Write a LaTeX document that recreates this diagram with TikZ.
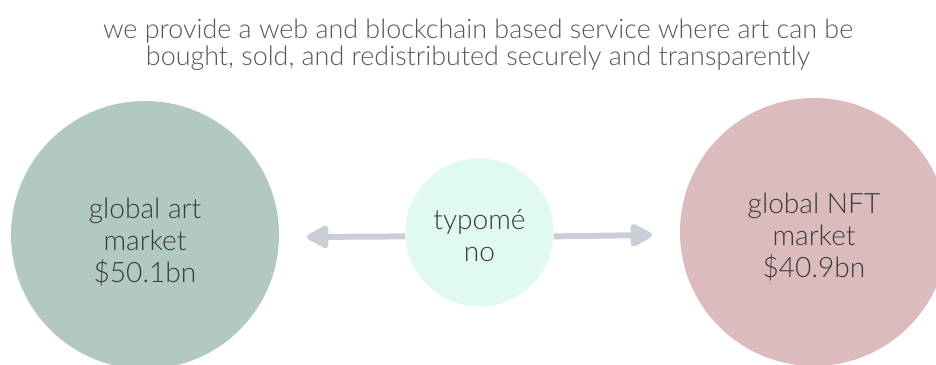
\documentclass[tikz,border=0pt]{standalone}
\usepackage{fontspec}
\setmainfont{Lato}[UprightFont=* Light]
\usepackage{tikz}
\usetikzlibrary{arrows.meta}

\definecolor{artgreen}{HTML}{B2C9C2}
\definecolor{nftpink}{HTML}{DCBBBF}
\definecolor{mint}{HTML}{E0FAF0}
\definecolor{arrowgray}{HTML}{C9CED9}
\definecolor{txtgray}{HTML}{3A3A3A}

\tikzset{
  market/.style={circle,inner sep=0pt,minimum size=5.36cm},
  lbl/.style={align=center,text=txtgray,font=\fontsize{16}{18.2}\selectfont},
  linkarrow/.style={draw=arrowgray,line width=3.4pt,
    -{Triangle[length=0.5cm,width=0.5cm,round]}}
}

\begin{document}
\begin{tikzpicture}
\useasboundingbox (0,0) rectangle (18.72,7.30);
\clip (0,0) rectangle (18.72,7.30);
\node[align=center,text=txtgray!85,font=\fontsize{15.3}{15.4}\selectfont] (claim) at (9.56,6.41)
  {we provide a web and blockchain based service where art can be\\
   bought, sold, and redistributed securely and transparently};
% three circles
\node[market,fill=artgreen] (art) at (2.90,2.60) {};
\node[market,fill=nftpink] (nft) at (16.28,2.66) {};
\node[market,fill=mint,minimum size=2.96cm] (typo) at (9.59,2.65) {};
\node[lbl] (artlbl) at ([yshift=-0.14cm]art) {global art\\market\\\$50.1bn};
\node[lbl] (nftlbl) at ([yshift=-0.10cm]nft) {global NFT\\market\\\$40.9bn};
\node[lbl] (typolbl) at ([yshift=-0.07cm]typo) {typomé\\no};
% arrows
\coordinate (tipL) at (6.14,2.56);
\coordinate (tipR) at (13.04,2.60);
\draw[linkarrow] (typo.183.5) -- (tipL);
\draw[linkarrow] (typo.-3.5) -- (tipR);
\end{tikzpicture}
\end{document}
